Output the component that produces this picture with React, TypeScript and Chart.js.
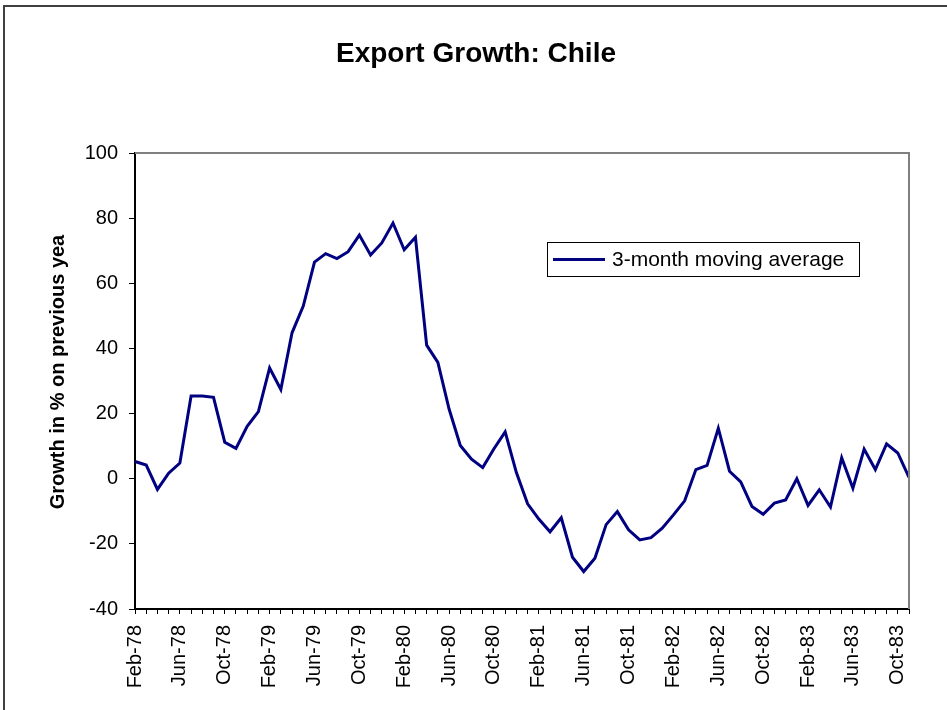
import React, { useEffect, useRef } from "react";
import { Chart, registerables } from "chart.js";

Chart.register(...registerables);

const chartTitle = "Export Growth: Chile";
const yAxisTitle = "Growth in % on previous yea";
const seriesName = "3-month moving average";

const months = [
  "Feb-78", "Mar-78", "Apr-78", "May-78", "Jun-78", "Jul-78", "Aug-78", "Sep-78", "Oct-78", "Nov-78", "Dec-78",
  "Jan-79", "Feb-79", "Mar-79", "Apr-79", "May-79", "Jun-79", "Jul-79", "Aug-79", "Sep-79", "Oct-79", "Nov-79", "Dec-79",
  "Jan-80", "Feb-80", "Mar-80", "Apr-80", "May-80", "Jun-80", "Jul-80", "Aug-80", "Sep-80", "Oct-80", "Nov-80", "Dec-80",
  "Jan-81", "Feb-81", "Mar-81", "Apr-81", "May-81", "Jun-81", "Jul-81", "Aug-81", "Sep-81", "Oct-81", "Nov-81", "Dec-81",
  "Jan-82", "Feb-82", "Mar-82", "Apr-82", "May-82", "Jun-82", "Jul-82", "Aug-82", "Sep-82", "Oct-82", "Nov-82", "Dec-82",
  "Jan-83", "Feb-83", "Mar-83", "Apr-83", "May-83", "Jun-83", "Jul-83", "Aug-83", "Sep-83", "Oct-83", "Nov-83",
];

const movingAverage = [
  5.3, 4.2, -3.3, 1.7, 4.8, 25.4, 25.4, 25.0, 11.2, 9.3, 16.1,
  20.6, 34.0, 27.4, 44.8, 53.0, 66.5, 69.1, 67.6, 69.7, 74.8, 68.7, 72.4,
  78.5, 70.3, 74.1, 41.0, 35.7, 21.4, 10.2, 6.0, 3.4, 9.2, 14.4, 1.9,
  -7.7, -12.4, -16.3, -12.0, -24.1, -28.5, -24.4, -14.1, -10.1, -15.7, -18.8, -18.1,
  -15.2, -11.1, -6.8, 2.8, 4.1, 15.5, 2.3, -1.0, -8.5, -10.9, -7.5, -6.5,
  0.0, -8.2, -3.4, -8.7, 6.4, -2.9, 9.1, 2.8, 10.7, 7.9, 0.4,
];

const yMin = -40;
const yMax = 100;
const yStep = 20;
const labelEvery = 4;

const FONT = "'Liberation Sans', Arial, sans-serif";
const LINE_COLOR = "#000080";

const decorPlugin = {
  id: "decor",
  beforeDraw(chart: any) {
    const ctx = chart.ctx;
    ctx.save();
    ctx.fillStyle = "#ffffff";
    ctx.fillRect(0, 0, chart.width, chart.height);
    // outer frame
    ctx.strokeStyle = "#000000";
    ctx.lineWidth = 1.5;
    ctx.beginPath();
    ctx.moveTo(3, 6);
    ctx.lineTo(chart.width, 6);
    ctx.stroke();
    ctx.strokeStyle = "#404040";
    ctx.lineWidth = 2;
    ctx.beginPath();
    ctx.moveTo(4, 6);
    ctx.lineTo(4, chart.height);
    ctx.stroke();
    ctx.restore();
  },
  afterDraw(chart: any) {
    const ctx = chart.ctx;
    const a = chart.chartArea;
    ctx.save();
    // plot area top/right border
    ctx.strokeStyle = "#808080";
    ctx.lineWidth = 2;
    ctx.beginPath();
    ctx.moveTo(a.left, a.top);
    ctx.lineTo(a.right, a.top);
    ctx.lineTo(a.right, a.bottom);
    ctx.stroke();

    // chart title
    ctx.fillStyle = "#000000";
    ctx.font = `bold 28px ${FONT}`;
    ctx.textAlign = "center";
    ctx.textBaseline = "middle";
    ctx.fillText(chartTitle, 476, 54);

    // y axis title
    ctx.font = `bold 20px ${FONT}`;
    ctx.translate(58, 372);
    ctx.rotate(-Math.PI / 2);
    ctx.fillText(yAxisTitle, 0, 0);
    ctx.restore();

    // legend
    ctx.save();
    ctx.fillStyle = "#ffffff";
    ctx.fillRect(547, 242, 312, 34);
    ctx.strokeStyle = "#000000";
    ctx.lineWidth = 1;
    ctx.strokeRect(547.5, 242.5, 312, 34);
    ctx.strokeStyle = LINE_COLOR;
    ctx.lineWidth = 3;
    ctx.beginPath();
    ctx.moveTo(553, 259.5);
    ctx.lineTo(605, 259.5);
    ctx.stroke();
    ctx.fillStyle = "#000000";
    ctx.font = `21px ${FONT}`;
    ctx.textAlign = "left";
    ctx.textBaseline = "middle";
    ctx.fillText(seriesName, 612, 260);
    ctx.restore();
  },
};

export default function App() {
  const ref = useRef<HTMLCanvasElement>(null);

  useEffect(() => {
    if (!ref.current) return;
    const chart = new Chart(ref.current, {
      type: "line",
      data: {
        labels: months,
        datasets: [
          {
            label: seriesName,
            data: movingAverage,
            borderColor: LINE_COLOR,
            backgroundColor: LINE_COLOR,
            borderWidth: 3,
            pointRadius: 0,
            tension: 0,
            fill: false,
          },
        ],
      },
      options: {
        responsive: false,
        animation: false,
        layout: { padding: { left: 0, right: 38, top: 153, bottom: 0 } },
        plugins: {
          legend: { display: false },
          tooltip: { enabled: false },
          title: { display: false },
        },
        scales: {
          x: {
            type: "category",
            offset: false,
            afterFit: (s: any) => {
              s.height = 101;
            },
            grid: {
              display: true,
              drawOnChartArea: false,
              drawTicks: true,
              tickLength: 5,
              color: "#000000",
              lineWidth: 1,
            },
            border: { display: true, color: "#000000", width: 2 },
            ticks: {
              autoSkip: false,
              maxRotation: 90,
              minRotation: 90,
              padding: 11,
              color: "#000000",
              font: { family: FONT, size: 20 },
              callback: (_v: any, i: number) => (i % labelEvery === 0 ? months[i] : ""),
            },
          },
          y: {
            min: yMin,
            max: yMax,
            afterFit: (s: any) => {
              s.width = 135;
            },
            grid: {
              display: true,
              drawOnChartArea: false,
              drawTicks: true,
              tickLength: 6,
              color: "#000000",
              lineWidth: 1,
            },
            border: { display: true, color: "#000000", width: 2 },
            ticks: {
              stepSize: yStep,
              padding: 11,
              color: "#000000",
              font: { family: FONT, size: 20 },
            },
          },
        },
      },
      plugins: [decorPlugin],
    });
    return () => chart.destroy();
  }, []);

  return (
    <div style={{ position: "fixed", left: 0, top: 0, width: 947, height: 710, background: "#fff" }}>
      <canvas ref={ref} width={947} height={710} style={{ width: 947, height: 710, display: "block" }} />
    </div>
  );
}
